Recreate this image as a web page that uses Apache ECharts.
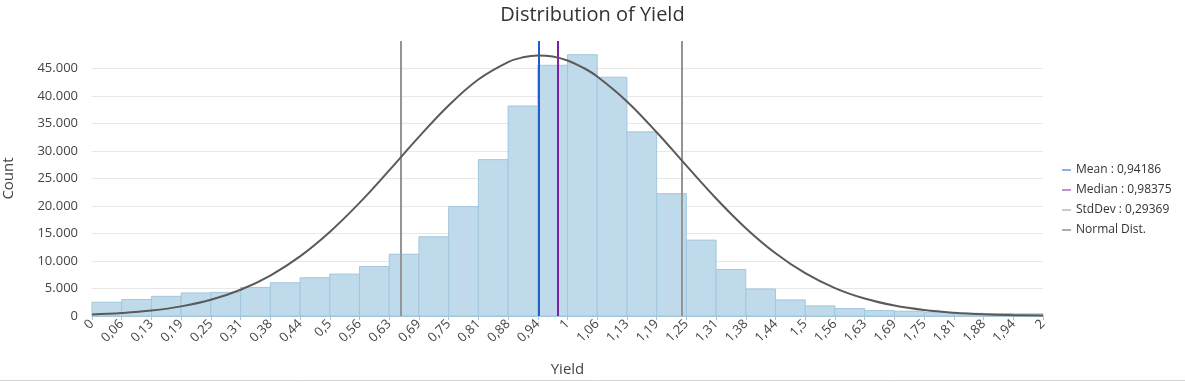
<!DOCTYPE html>
<html>
<head>
<meta charset="utf-8">
<script src="https://cdn.jsdelivr.net/npm/echarts@6/dist/echarts.min.js"></script>
<style>
html,body{margin:0;padding:0;background:#fff;}
#chart{width:1185px;height:382px;}
</style>
</head>
<body>
<div id="chart"></div>
<script>
// Tick / bin edge values on the x axis
const xTickValues = [0, 0.0625, 0.125, 0.1875, 0.25, 0.3125, 0.375, 0.4375, 0.5, 0.5625, 0.625, 0.6875, 0.75, 0.8125, 0.875, 0.9375, 1,
  1.0625, 1.125, 1.1875, 1.25, 1.3125, 1.375, 1.4375, 1.5, 1.5625, 1.625, 1.6875, 1.75, 1.8125, 1.875, 1.9375, 2];
const xTickLabels = ['0','0,06','0,13','0,19','0,25','0,31','0,38','0,44','0,5','0,56','0,63','0,69','0,75','0,81','0,88','0,94','1',
  '1,06','1,13','1,19','1,25','1,31','1,38','1,44','1,5','1,56','1,63','1,69','1,75','1,81','1,88','1,94','2'];
// Histogram counts (one per bin between consecutive ticks)
const binCounts = [2500, 3000, 3570, 4190, 4300, 5200, 6050, 6950, 7620, 8990, 11230, 14400, 19890, 28430, 38180, 45580,
  47510, 43410, 33480, 22240, 13800, 8450, 4910, 2920, 1840, 1350, 990, 870, 600, 500, 450, 400];
// Normal distribution curve at x positions
const normalX = [0, 0.0625, 0.125, 0.1875, 0.25, 0.3125, 0.375, 0.4375, 0.5, 0.5625, 0.625, 0.6875, 0.75, 0.8125, 0.875, 0.9063, 0.9375, 0.9688, 1,
  1.0313, 1.0625, 1.125, 1.1875, 1.25, 1.3125, 1.375, 1.4375, 1.5, 1.5625, 1.625, 1.6875, 1.75, 1.8125, 1.875, 1.9375, 2];
const normalY = [280, 540, 990, 1750, 2950, 4770, 7360, 10840, 15280, 20570, 26470, 32560, 38280, 43000, 46170, 47030, 47380, 47190, 46460,
  45220, 43550, 39010, 33400, 27330, 21370, 15970, 11410, 7790, 5080, 3170, 1890, 1080, 590, 300, 150, 70];
const meanValue = 0.94186;
const medianValue = 0.98375;
const stdDevValue = 0.29369;
const yTickLabels = ['0','5.000','10.000','15.000','20.000','25.000','30.000','35.000','40.000','45.000',''];
const legendNames = ['Mean : 0,94186', 'Median : 0,98375', 'StdDev : 0,29369', 'Normal Dist.'];

const histData = binCounts.map((c, i) => [xTickValues[i], xTickValues[i + 1], c]);
const normalData = normalX.map((x, i) => [x, normalY[i]]);

const FONT = 'Open Sans';
const chart = echarts.init(document.getElementById('chart'), null, {renderer: 'canvas'});
const gridColors = yTickLabels.map(t => t === '' ? 'rgba(0,0,0,0)' : '#e8e8e8');

function vline(name, color, values) {
  return {
    name: name, type: 'line', data: [], color: color,
    lineStyle: {color: color, width: 1},
    markLine: {
      symbol: 'none', silent: true, animation: false,
      label: {show: false},
      lineStyle: {color: color, width: 2, type: 'solid'},
      emphasis: {disabled: true},
      data: values.map(v => ({xAxis: v}))
    }
  };
}

chart.setOption({
  animation: false,
  backgroundColor: '#ffffff',
  textStyle: {fontFamily: FONT},
  title: {
    text: 'Distribution of Yield', left: 'center', top: 0,
    textStyle: {fontFamily: FONT, fontSize: 20, fontWeight: 'normal', color: '#333333'}
  },
  legend: {
    orient: 'vertical', left: 1057, top: 158, itemGap: 6,
    itemWidth: 9, itemHeight: 1, icon: 'rect',
    textStyle: {fontFamily: FONT, fontSize: 12, color: '#333333', lineHeight: 14},
    data: legendNames
  },
  grid: {left: 92, right: 142, top: 41, bottom: 66, containLabel: false, outerBoundsMode: 'none'},
  xAxis: {
    type: 'value', min: 0, max: 2, interval: 0.0625,
    name: 'Yield', nameLocation: 'middle', nameGap: 46,
    nameTextStyle: {fontFamily: FONT, fontSize: 15, color: '#444444'},
    axisLine: {show: true, lineStyle: {color: '#a9c4d6', width: 1}},
    axisTick: {show: true, length: 4, lineStyle: {color: '#a9c4d6'}},
    splitLine: {show: false},
    axisLabel: {
      rotate: 45, margin: 6, fontFamily: FONT, fontSize: 13, color: '#444444',
      showMinLabel: true, showMaxLabel: true, hideOverlap: false,
      formatter: v => xTickLabels[Math.round(v / 0.0625)]
    }
  },
  yAxis: {
    type: 'value', min: 0, max: 50000, interval: 5000,
    name: 'Count', nameLocation: 'middle', nameGap: 76, nameRotate: 90,
    nameTextStyle: {fontFamily: FONT, fontSize: 15, color: '#444444'},
    axisLine: {show: false}, axisTick: {show: false},
    splitLine: {show: true, lineStyle: {color: gridColors, width: 1}},
    axisLabel: {
      margin: 14, fontFamily: FONT, fontSize: 13, color: '#444444',
      formatter: v => yTickLabels[Math.round(v / 5000)]
    }
  },
  graphic: [{
    type: 'line', silent: true,
    shape: {x1: 0, y1: 380.5, x2: 1185, y2: 380.5},
    style: {stroke: '#d4d4d4', lineWidth: 1}
  }],
  series: [
    {
      name: 'Histogram', type: 'custom', data: histData, z: 1,
      encode: {x: [0, 1], y: 2},
      renderItem: function (params, api) {
        const p0 = api.coord([api.value(0), api.value(2)]);
        const p1 = api.coord([api.value(1), 0]);
        return {
          type: 'rect',
          shape: {x: p0[0], y: p0[1], width: p1[0] - p0[0], height: p1[1] - p0[1]},
          style: {fill: '#bfdaea', stroke: '#a2c7dd', lineWidth: 1}
        };
      }
    },
    vline(legendNames[0], '#1d5fd1', [meanValue]),
    vline(legendNames[1], '#7d22a8', [medianValue]),
    vline(legendNames[2], '#959595', [meanValue - stdDevValue, meanValue + stdDevValue]),
    {
      name: legendNames[3], type: 'line', data: normalData, smooth: 0.4,
      showSymbol: false, symbol: 'none', z: 5, color: '#5a5a5a',
      lineStyle: {color: '#5a5a5a', width: 2}
    }
  ]
});
</script>
</body>
</html>
